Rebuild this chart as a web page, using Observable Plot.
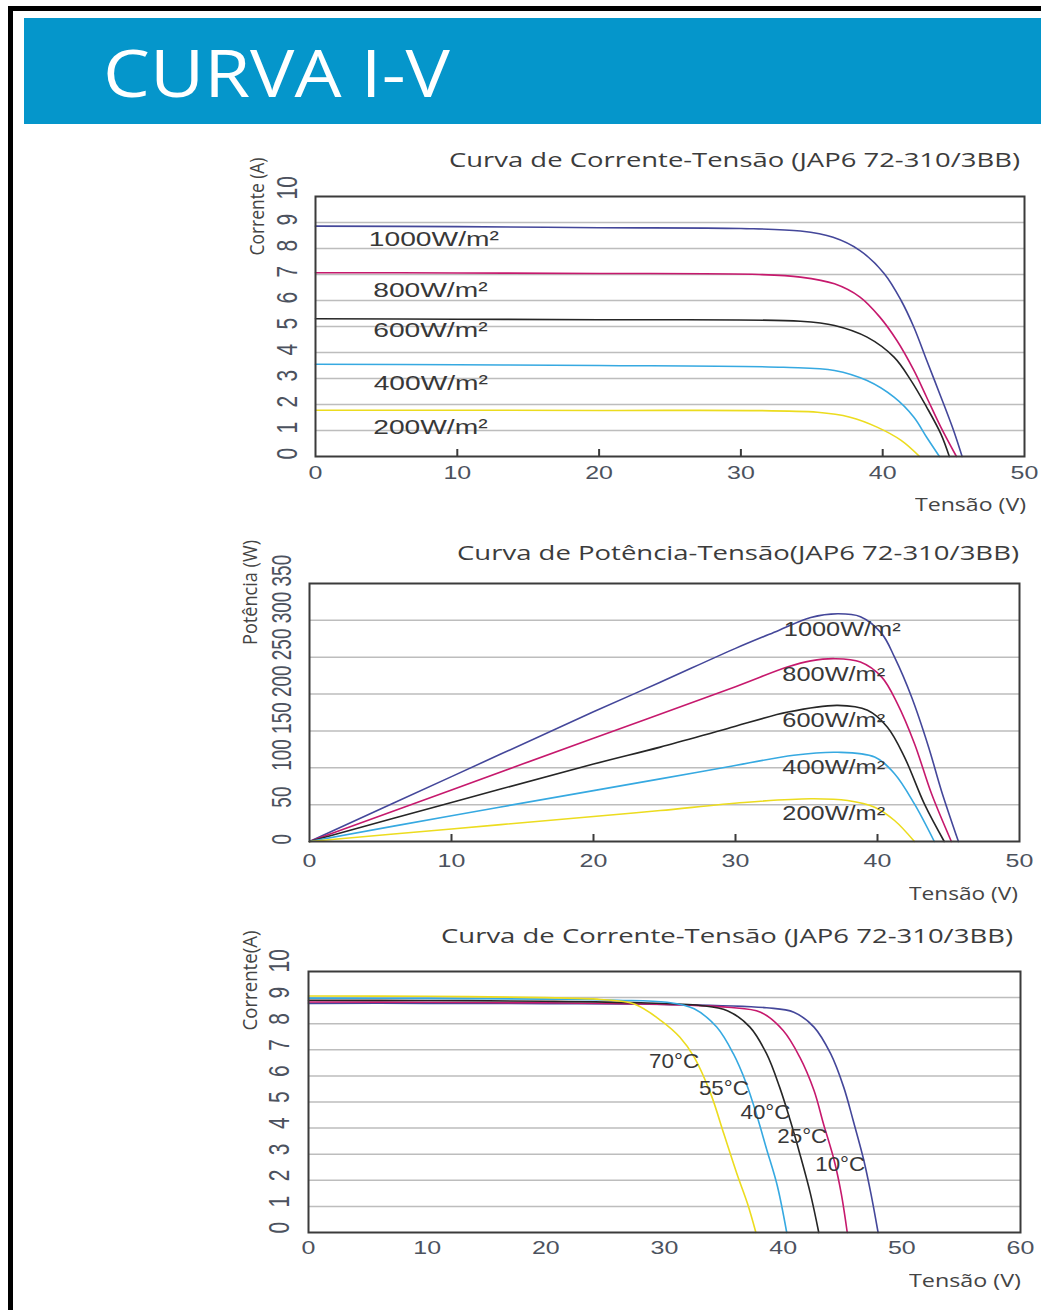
<!DOCTYPE html>
<html><head><meta charset="utf-8">
<script src="https://cdn.jsdelivr.net/npm/d3@7"></script>
<script src="https://cdn.jsdelivr.net/npm/@observablehq/plot@0.6"></script>
<style>
html,body{margin:0;padding:0;background:#fff;}
body{width:1041px;height:1310px;position:relative;overflow:hidden;}
.abs{position:absolute;white-space:nowrap;line-height:1;}
</style></head><body>
<div style="position:absolute;left:8px;top:6px;width:1040px;height:5px;background:#000"></div>
<div style="position:absolute;left:8px;top:6px;width:4.5px;height:1310px;background:#000"></div>
<div style="position:absolute;left:24px;top:18px;width:1020px;height:106px;background:#0596cb"></div>
<script>
// ---------- DATA ----------
const irradianceNames = ["1000W/m²", "800W/m²", "600W/m²", "400W/m²", "200W/m²"];
const temperatureNames = ["10°C", "25°C", "40°C", "55°C", "70°C"];
const seriesColors = ["#44479a", "#c6196d", "#262626", "#36a9e1", "#ecdc1f"];

// Chart 1: current vs voltage by irradiance  [V, I]
const iv1000 = [[0,8.86],[10,8.84],[20,8.8],[30,8.77],[34.2,8.67],[36.5,8.43],[38.4,7.92],[40.1,7.04],[41.3,6.0],[42.2,4.97],[43.1,3.7],[44.1,2.3],[45.0,1.0],[45.6,0]];
const iv800  = [[0,7.07],[10,7.06],[20,7.04],[31.3,7.0],[34.2,6.9],[36.6,6.64],[38.4,6.13],[39.8,5.36],[41.0,4.46],[42.2,3.31],[43.1,2.28],[44.1,1.13],[45.2,0]];
const iv600  = [[0,5.3],[10,5.28],[20,5.26],[34.2,5.2],[36.6,5.04],[38.9,4.59],[40.8,3.82],[42.0,2.92],[43.1,1.9],[44.1,0.87],[44.7,0]];
const iv400  = [[0,3.55],[10,3.53],[20,3.5],[33.0,3.43],[36.6,3.31],[38.9,2.92],[40.8,2.28],[42.2,1.51],[43.1,0.74],[44.0,0]];
const iv200  = [[0,1.78],[10,1.78],[20,1.77],[35.4,1.7],[37.7,1.51],[39.6,1.13],[41.3,0.62],[42.6,0]];

// Chart 2: power vs voltage by irradiance  [V, P]
const pv1000 = [[0,0],[10,88],[20,176],[24.7,216],[30,262],[33,286],[35.3,304],[37.2,309],[38.8,305],[40.3,282],[41.2,250],[42.4,196],[43.6,128],[44.5,69],[45.7,0]];
const pv800  = [[0,0],[10,70],[20,140],[30,210],[33.7,237],[35.3,245],[37.0,248],[38.8,243.5],[40.3,223],[41.4,187],[42.6,133],[43.8,65],[45.2,0]];
const pv600  = [[0,0],[10,53],[20,105],[24.7,128],[29.4,153],[33.7,175.6],[37.2,184.7],[39.3,178],[40.7,155],[41.9,114.5],[43.3,51],[44.7,0]];
const pv400  = [[0,0],[10,35],[20,69],[24.7,85],[29.4,101],[34.1,117],[37.2,121],[39.8,114.5],[41.2,92],[42.6,51],[44.0,0]];
const pv200  = [[0,0],[10,17],[20,34],[24.7,42],[30.6,53],[35.3,58],[37.9,55.7],[39.8,46.6],[41.2,28.5],[42.6,0]];

// Chart 3: current vs voltage by temperature  [V, I]
const t10 = [[0,8.78],[10,8.78],[20,8.77],[30,8.74],[38.6,8.61],[40.9,8.44],[42.6,7.87],[44.0,6.85],[45.1,5.57],[45.9,4.29],[46.8,2.76],[47.4,1.48],[48.0,0]];
const t25 = [[0,8.83],[10,8.82],[20,8.8],[30,8.74],[35.3,8.63],[38.1,8.44],[40.0,7.74],[41.4,6.72],[42.6,5.44],[43.4,4.16],[44.3,2.76],[44.9,1.48],[45.4,0]];
const t40 = [[0,8.9],[10,8.89],[20,8.86],[28,8.8],[33.0,8.7],[35.3,8.5],[37.2,7.87],[38.6,6.85],[39.7,5.57],[40.6,4.29],[41.4,3.02],[42.3,1.48],[43.0,0]];
const t55 = [[0,8.98],[10,8.97],[20,8.94],[26,8.9],[30.2,8.82],[32.5,8.57],[34.4,7.87],[35.8,6.85],[36.9,5.7],[37.8,4.45],[38.6,3.2],[39.5,1.8],[40.3,0]];
const t70 = [[0,9.06],[10,9.05],[20,9.0],[24.6,8.93],[27.4,8.76],[29.7,8.12],[31.3,7.48],[32.5,6.72],[33.9,5.31],[35.0,3.78],[36.1,2.25],[37.0,1.1],[37.7,0]];

// curve label anchors (data units)
const ivLabelV = [3.76, 4.07, 4.07, 4.1, 4.07];
const ivLabelI = [8.35, 6.38, 4.86, 2.81, 1.12];
const pvLabelV = [33.4, 33.3, 33.3, 33.3, 33.3];
const pvLabelP = [287, 226, 164, 100, 37];
const tLabelV = [42.7, 39.5, 36.4, 32.9, 28.7];
const tLabelI = [2.62, 3.67, 4.6, 5.52, 6.53];

// axis ticks
const ticksV50 = [0, 10, 20, 30, 40, 50];
const ticksV60 = [0, 10, 20, 30, 40, 50, 60];
const ticksI = [0, 1, 2, 3, 4, 5, 6, 7, 8, 9, 10];
const ticksP = [0, 50, 100, 150, 200, 250, 300, 350];
const gridI = [1, 2, 3, 4, 5, 6, 7, 8, 9];
const gridP = [50, 100, 150, 200, 250, 300];
const innerTicksV = [10, 20, 30, 40];

// ---------- BUILD ----------
const toRows = (curves, names, key) => curves.flatMap((pts, i) => pts.map(([V, v]) => ({series: names[i], V, [key]: v})));
const toLabels = (names, xs, ys, key) => names.map((n, i) => ({text: n, V: xs[i], [key]: ys[i]}));

function makeChart(c) {
  const [fl, fr, ft, fb] = c.frame;
  const mb = 40;
  const svg = Plot.plot({
    width: 1041, height: fb - c.top + mb,
    marginLeft: fl, marginRight: 1041 - fr, marginTop: ft - c.top, marginBottom: mb,
    style: {fontFamily: "'Liberation Sans', Arial, sans-serif", background: "transparent", overflow: "visible"},
    x: {domain: c.xDomain}, y: {domain: c.yDomain},
    color: {domain: c.names, range: seriesColors},
    marks: [
      Plot.ruleY(c.grid, {stroke: "#bdbdbd", strokeWidth: 1.5}),
      Plot.line(c.rows, {x: "V", y: c.key, z: "series", stroke: "series", strokeWidth: 1.6, curve: "catmull-rom"}),
      Plot.frame({stroke: "#3b3b3b", strokeWidth: 2}),
      c.inner ? Plot.axisX(c.inner, {tickSize: -7, tickFormat: () => "", color: "#3b3b3b", strokeWidth: 2, label: null}) : null,
      Plot.axisX(c.xTicks, {tickSize: 0, tickPadding: c.xPad, fontSize: 18.5, color: "#4c525e", label: null}),
      Plot.axisY(c.yTicks, {tickSize: 0, tickPadding: c.yPad, tickRotate: -90, textAnchor: "start", lineAnchor: "middle", fontSize: c.yFont, dy: c.yDy, color: "#4c525e", label: null}),
      Plot.text(c.labels, {x: "V", y: c.key, text: "text", textAnchor: "start", lineAnchor: "middle", fontSize: c.labelFont, fill: "#383838"})
    ]
  });
  const sc = (sel, s) => svg.querySelectorAll(sel).forEach(t => {
    const tr = t.getAttribute("transform");
    if (tr) t.setAttribute("transform", tr + " " + s);
  });
  sc('g[aria-label="x-axis tick label"] text', "scale(1.35,1)");
  sc('g[aria-label="y-axis tick label"] text', `scale(1,${c.yCross})`);
  sc('g[aria-label="text"] text', `scale(${c.labelScale},1)`);
  svg.style.position = "absolute";
  svg.style.left = "0px";
  svg.style.top = c.top + "px";
  document.body.appendChild(svg);
}

makeChart({
  top: 140, frame: [315, 1024, 196, 456], xDomain: [0, 50], yDomain: [0, 10],
  names: irradianceNames, rows: toRows([iv1000, iv800, iv600, iv400, iv200], irradianceNames, "I"), key: "I",
  grid: gridI, inner: innerTicksV, xTicks: ticksV50, yTicks: ticksI,
  xPad: 9, yPad: 27.5, yDy: 3, yFont: 21, yCross: 1.4,
  labels: toLabels(irradianceNames, ivLabelV, ivLabelI, "I"), labelFont: 20, labelScale: 1.41
});
makeChart({
  top: 530, frame: [309, 1019, 583, 841], xDomain: [0, 50], yDomain: [0, 350],
  names: irradianceNames, rows: toRows([pv1000, pv800, pv600, pv400, pv200], irradianceNames, "P"), key: "P",
  grid: gridP, inner: innerTicksV, xTicks: ticksV50, yTicks: ticksP,
  xPad: 12, yPad: 28, yDy: 3, yFont: 19, yCross: 1.5,
  labels: toLabels(irradianceNames, pvLabelV, pvLabelP, "P"), labelFont: 19.5, labelScale: 1.3
});
makeChart({
  top: 920, frame: [308, 1020, 971, 1232], xDomain: [0, 60], yDomain: [0, 10],
  names: temperatureNames, rows: toRows([t10, t25, t40, t55, t70], temperatureNames, "I"), key: "I",
  grid: gridI, inner: null, xTicks: ticksV60, yTicks: ticksI,
  xPad: 8.5, yPad: 29, yDy: 1, yFont: 21, yCross: 1.4,
  labels: toLabels(temperatureNames, tLabelV, tLabelI, "I"), labelFont: 20, labelScale: 1.12
});

// ---------- TEXT ----------
function hText(str, o) {
  const el = document.createElement("div");
  el.className = "abs";
  el.textContent = str;
  el.style.fontFamily = o.family || "'Open Sans', sans-serif";
  el.style.fontSize = o.size + "px";
  el.style.color = o.color || "#3c3c3c";
  document.body.appendChild(el);
  const w = el.getBoundingClientRect().width;
  const x0 = o.left != null ? o.left : o.right - o.width;
  el.style.left = x0 + "px";
  el.style.top = (o.baseline - 0.888 * o.size) + "px";
  el.style.transformOrigin = "0 0";
  el.style.transform = `scaleX(${o.width / w})`;
}
function vText(str, o) {
  const el = document.createElement("div");
  el.className = "abs";
  el.textContent = str;
  el.style.fontFamily = "'Open Sans', sans-serif";
  el.style.fontSize = o.size + "px";
  el.style.color = o.color || "#444";
  document.body.appendChild(el);
  const r = el.getBoundingClientRect();
  el.style.left = (o.cx - r.width / 2) + "px";
  el.style.top = (o.cy - r.height / 2) + "px";
  el.style.transformOrigin = "50% 50%";
  el.style.transform = `rotate(-90deg) scale(${o.length / r.width}, ${o.cross})`;
}

hText("CURVA I-V", {left: 103, baseline: 97, size: 66, width: 347, color: "#ffffff"});

hText("Curva de Corrente-Tensão (JAP6 72-310/3BB)", {right: 1020, baseline: 167.5, size: 20.5, width: 571});
hText("Curva de Potência-Tensão(JAP6 72-310/3BB)", {right: 1019, baseline: 560, size: 20.5, width: 562});
hText("Curva de Corrente-Tensão (JAP6 72-310/3BB)", {right: 1013, baseline: 943, size: 20.5, width: 572});

hText("Tensão (V)", {right: 1026, baseline: 511, size: 18, width: 111, color: "#444"});
hText("Tensão (V)", {right: 1018, baseline: 900, size: 18, width: 109, color: "#444"});
hText("Tensão (V)", {right: 1021, baseline: 1286.5, size: 18, width: 112, color: "#444"});

vText("Corrente (A)", {cx: 256, cy: 206, size: 17, length: 98, cross: 1.2});
vText("Potência (W)", {cx: 249, cy: 592, size: 17, length: 105, cross: 1.2});
vText("Corrente(A)", {cx: 250, cy: 980, size: 17, length: 100, cross: 1.2});
</script>
</body></html>
